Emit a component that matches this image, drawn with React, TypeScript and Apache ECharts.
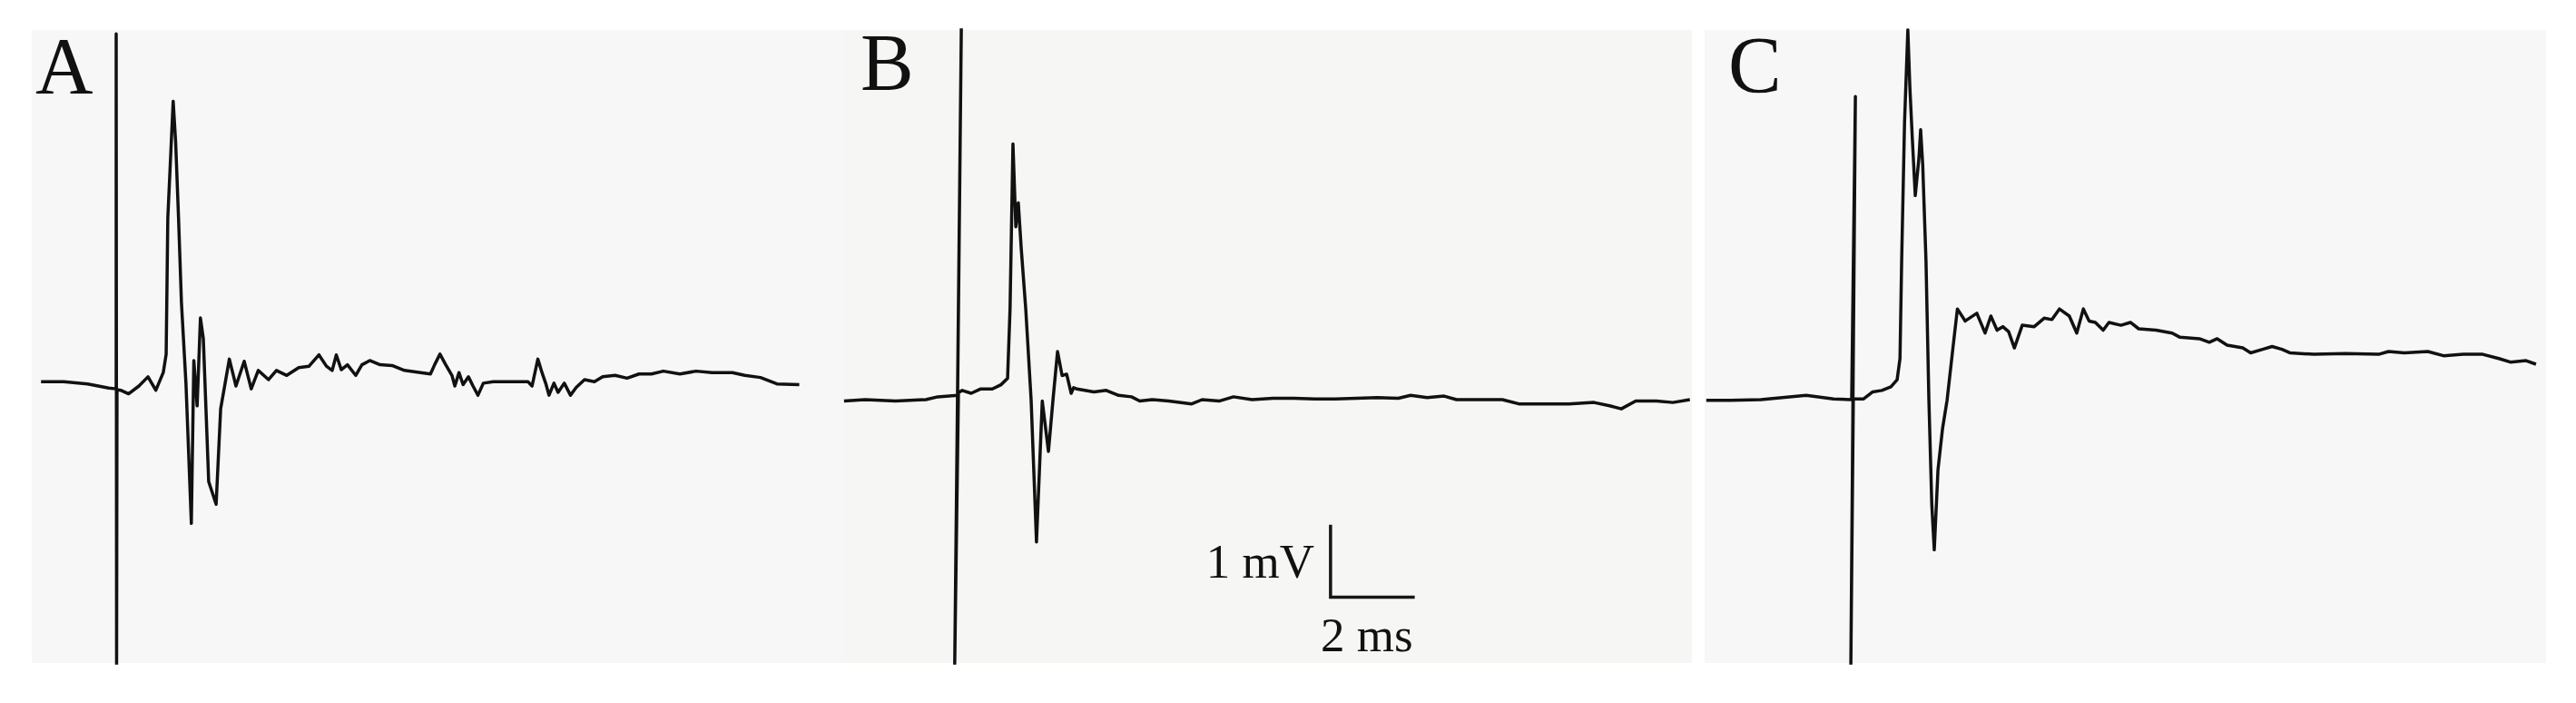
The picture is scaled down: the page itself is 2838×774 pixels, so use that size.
import React, { useEffect, useRef } from "react";
import * as echarts from "echarts";

// ---- data: time in ms (stimulus at 0), voltage in mV ----
const traceA: [number, number][] = [
  [-1.82, 0.06], [-1.27, 0.06], [-0.69, 0.03], [-0.18, -0.03], [0, -0.04],
  [0, 4.97], [0.01, -3.95], [0.02, -0.05],
  [0.11, -0.06], [0.3, -0.11], [0.55, 0.0], [0.77, 0.13], [0.96, -0.06], [1.14, 0.19],
  [1.21, 0.45], [1.25, 2.37], [1.38, 4.02], [1.44, 3.44], [1.51, 2.37], [1.58, 1.18],
  [1.69, 0.03], [1.82, -1.94], [1.88, 0.36], [1.96, -0.28], [2.04, 0.96], [2.11, 0.67],
  [2.24, -1.35], [2.42, -1.67], [2.53, -0.32], [2.74, 0.38], [2.9, 0.0], [3.1, 0.35],
  [3.27, -0.04], [3.44, 0.22], [3.69, 0.09], [3.88, 0.22], [4.13, 0.15], [4.42, 0.26],
  [4.67, 0.28], [4.91, 0.44], [5.09, 0.28], [5.23, 0.22], [5.33, 0.44], [5.45, 0.23],
  [5.6, 0.3], [5.8, 0.15], [5.95, 0.3], [6.14, 0.36], [6.39, 0.3], [6.68, 0.29],
  [6.98, 0.22], [7.37, 0.19], [7.61, 0.17], [7.71, 0.3], [7.84, 0.45], [7.98, 0.3],
  [8.13, 0.15], [8.2, 0.0], [8.3, 0.19], [8.4, 0.02], [8.53, 0.13], [8.64, 0.0],
  [8.76, -0.13], [8.89, 0.04], [9.13, 0.06], [9.53, 0.06], [9.97, 0.06], [10.07, 0.0],
  [10.21, 0.38], [10.31, 0.19], [10.41, 0.02], [10.48, -0.13], [10.6, 0.04], [10.7, -0.09],
  [10.85, 0.04], [11.0, -0.13], [11.14, -0.02], [11.34, 0.09], [11.58, 0.06], [11.78, 0.13],
  [12.08, 0.15], [12.37, 0.11], [12.66, 0.17], [12.96, 0.17], [13.25, 0.21], [13.65, 0.17],
  [14.04, 0.21], [14.43, 0.19], [14.92, 0.19], [15.22, 0.15], [15.6, 0.12], [16.0, 0.03],
  [16.54, 0.02],
];

const traceB: [number, number][] = [
  [-2.75, -0.02], [-2.24, 0.0], [-1.5, -0.02], [-0.77, 0.0], [-0.48, 0.04], [0, 0.06],
  [0.09, 5.25], [-0.07, -3.75], [0.02, 0.1],
  [0.11, 0.13], [0.33, 0.09], [0.55, 0.15], [0.84, 0.15], [1.05, 0.21], [1.21, 0.3],
  [1.27, 1.28], [1.34, 3.61], [1.41, 2.44], [1.47, 2.78], [1.54, 2.14], [1.65, 1.28],
  [1.78, 0.0], [1.91, -2.01], [2.05, -0.02], [2.2, -0.73], [2.31, 0.0], [2.42, 0.68],
  [2.53, 0.34], [2.64, 0.36], [2.75, 0.09], [2.81, 0.17], [2.89, 0.15], [3.3, 0.11],
  [3.6, 0.13], [3.9, 0.06], [4.21, 0.04], [4.41, -0.02], [4.71, 0.0], [5.11, -0.02],
  [5.67, -0.06], [5.92, 0.0], [6.33, -0.02], [6.68, 0.04], [7.13, 0.0], [7.64, 0.02],
  [8.14, 0.02], [8.65, 0.01], [9.15, 0.01], [9.66, 0.02], [10.16, 0.03], [10.67, 0.02],
  [10.97, 0.06], [11.37, 0.03], [11.78, 0.05], [12.08, 0.0], [12.68, 0.0], [13.19, 0.0],
  [13.59, -0.06], [14.2, -0.06], [14.8, -0.06], [15.41, -0.04], [15.81, -0.09], [16.07, -0.13],
  [16.42, -0.02], [16.92, -0.02], [17.32, -0.04], [17.73, 0.0],
];

const traceC: [number, number][] = [
  [-3.52, -0.01], [-2.93, -0.01], [-2.2, 0.0], [-1.1, 0.06], [-0.44, 0.01], [0, 0.0],
  [0.09, 4.28], [-0.02, -3.75], [0.04, 0.01],
  [0.29, 0.01], [0.51, 0.11], [0.73, 0.13], [0.95, 0.18], [1.1, 0.28], [1.17, 0.58],
  [1.21, 1.95], [1.28, 3.91], [1.36, 5.22], [1.41, 4.4], [1.47, 3.67], [1.54, 2.88],
  [1.63, 3.42], [1.67, 3.81], [1.72, 3.32], [1.8, 1.95], [1.87, -0.01], [1.94, -1.48],
  [2.0, -2.12], [2.09, -0.99], [2.2, -0.41], [2.31, -0.01], [2.45, 0.72], [2.56, 1.28],
  [2.75, 1.11], [3.03, 1.22], [3.23, 0.94], [3.37, 1.18], [3.52, 0.98], [3.66, 1.03],
  [3.8, 0.96], [3.94, 0.73], [4.13, 1.05], [4.42, 1.03], [4.66, 1.15], [4.85, 1.13],
  [5.03, 1.28], [5.27, 1.18], [5.45, 0.94], [5.61, 1.28], [5.75, 1.11], [5.9, 1.09],
  [6.09, 0.98], [6.23, 1.09], [6.52, 1.05], [6.75, 1.09], [6.95, 1.0], [7.37, 0.98],
  [7.76, 0.94], [7.95, 0.88], [8.42, 0.86], [8.66, 0.81], [8.85, 0.86], [9.09, 0.77],
  [9.47, 0.73], [9.66, 0.66], [9.95, 0.71], [10.18, 0.75], [10.42, 0.71], [10.62, 0.66],
  [11.19, 0.64], [11.95, 0.65], [12.76, 0.64], [13.0, 0.68], [13.38, 0.66], [13.95, 0.68],
  [14.33, 0.62], [14.81, 0.64], [15.28, 0.64], [15.67, 0.58], [15.95, 0.53], [16.33, 0.55],
  [16.57, 0.5],
];

// scale bar (drawn in panel B coordinates)
const scaleBarMs = 2;
const scaleBarMV = 1;
const scaleBarOrigin: [number, number] = [9.03, -2.79];
const scaleBarLabels = ["1 mV", "2 ms"];
const panelLabels = ["A", "B", "C"];

// ---- layout ----
const PX_PER_MS = 45.5;
const PX_PER_MV = 78;
const TOP = 33;
const BOTTOM = 730;
const panels = [
  { left: 35, right: 928, stimX: 128, baseY: 425, bg: "#f7f7f7" },
  { left: 928, right: 1864, stimX: 1055, baseY: 440, bg: "#f6f6f5" },
  { left: 1878, right: 2805, stimX: 2040, baseY: 440, bg: "#f7f7f7" },
];

export default function App() {
  const ref = useRef<HTMLDivElement>(null);
  useEffect(() => {
    if (!ref.current) return;
    const chart = echarts.init(ref.current, null, { renderer: "svg" });
    const traces = [traceA, traceB, traceC];
    const grids = panels.map((p) => ({
      left: p.left,
      top: TOP,
      width: p.right - p.left,
      height: BOTTOM - TOP,
      show: true,
      backgroundColor: p.bg,
      borderWidth: 0,
    }));
    const xAxes = panels.map((p, i) => ({
      type: "value",
      gridIndex: i,
      min: (p.left - p.stimX) / PX_PER_MS,
      max: (p.right - p.stimX) / PX_PER_MS,
      show: false,
    }));
    const yAxes = panels.map((p, i) => ({
      type: "value",
      gridIndex: i,
      min: (p.baseY - BOTTOM) / PX_PER_MV,
      max: (p.baseY - TOP) / PX_PER_MV,
      show: false,
    }));
    const lineStyle = { color: "#111111", width: 3.5, join: "round" };
    const series: any[] = traces.map((d, i) => ({
      type: "line",
      xAxisIndex: i,
      yAxisIndex: i,
      data: d,
      showSymbol: false,
      symbol: "none",
      lineStyle,
      silent: true,
    }));
    const [x0, y0] = scaleBarOrigin;
    series.push({
      type: "line",
      xAxisIndex: 1,
      yAxisIndex: 1,
      data: [
        [x0, y0 + scaleBarMV],
        [x0, y0],
        [x0 + scaleBarMs, y0],
      ],
      showSymbol: false,
      symbol: "none",
      lineStyle: { color: "#151515", width: 3.5, join: "miter", cap: "square" },
      silent: true,
    });
    const serif = "'Liberation Serif', 'Times New Roman', serif";
    const labelPos = [
      { x: 39, y: 72 },
      { x: 948, y: 68 },
      { x: 1904, y: 71 },
    ];
    const graphic: any[] = panelLabels.map((t, i) => ({
      type: "text",
      x: labelPos[i].x,
      y: labelPos[i].y,
      style: {
        text: t,
        font: `88px ${serif}`,
        fill: "#111",
        textAlign: "left",
        textVerticalAlign: "middle",
      },
      silent: true,
    }));
    graphic.push({
      type: "text",
      x: 1448,
      y: 618,
      style: {
        text: scaleBarLabels[0],
        font: `53px ${serif}`,
        fill: "#111",
        textAlign: "right",
        textVerticalAlign: "middle",
      },
    });
    graphic.push({
      type: "text",
      x: 1455,
      y: 699,
      style: {
        text: scaleBarLabels[1],
        font: `53px ${serif}`,
        fill: "#111",
        textAlign: "left",
        textVerticalAlign: "middle",
      },
    });
    chart.setOption({
      animation: false,
      backgroundColor: "#ffffff",
      grid: grids,
      xAxis: xAxes,
      yAxis: yAxes,
      series,
      graphic,
    });
    return () => chart.dispose();
  }, []);
  return (
    <div
      ref={ref}
      style={{ position: "fixed", left: 0, top: 0, width: 2838, height: 774, background: "#fff" }}
    />
  );
}
